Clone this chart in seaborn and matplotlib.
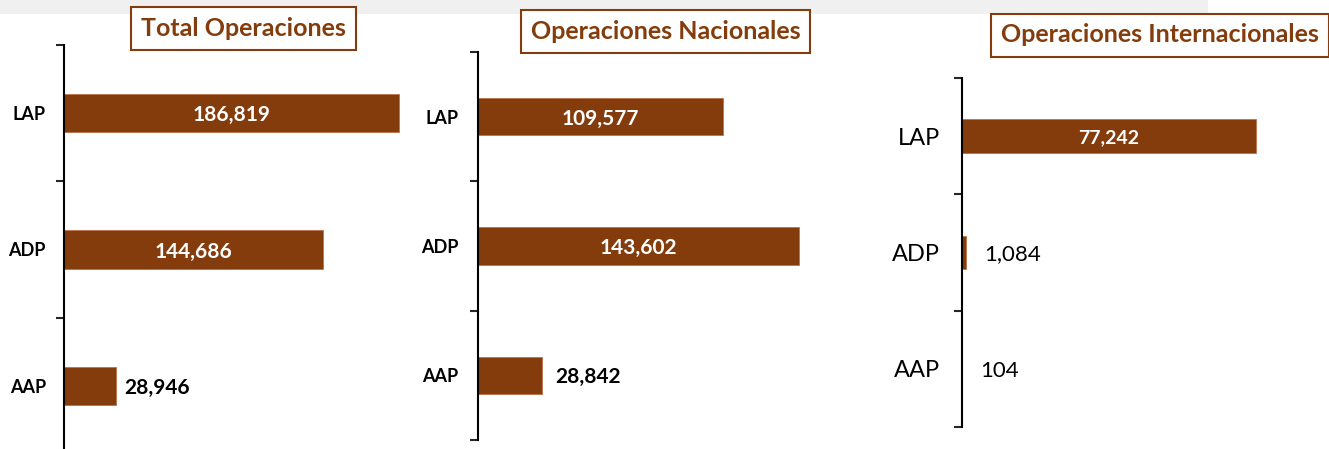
import matplotlib
matplotlib.use("Agg")
import matplotlib.pyplot as plt
import seaborn as sns
from matplotlib.patches import Rectangle

categories = ["LAP", "ADP", "AAP"]
total_ops = [186819, 144686, 28946]
nacional_ops = [109577, 143602, 28842]
internacional_ops = [77242, 1084, 104]
titles = ["Total Operaciones", "Operaciones Nacionales", "Operaciones Internacionales"]

BROWN = "#843C0C"
W, H = 1329, 449

sns.set_style("white")
plt.rcParams["font.family"] = ["Lato", "DejaVu Sans"]

fig = plt.figure(figsize=(W / 100, H / 100), dpi=100)

# grey band at the very top
fig.patches.append(Rectangle((0, 1 - 14 / H), 1208 / W, 14 / H, transform=fig.transFigure,
                             facecolor="#f0f0f0", edgecolor="none", zorder=0))


def px_axes(left, top, right, bottom):
    return fig.add_axes([left / W, 1 - bottom / H, (right - left) / W, (bottom - top) / H])


def draw_panel(ax, values, xmax, width, tick_size, tick_weight, tick_pad,
               inside_min, in_size, out_size, out_weight, out_offset):
    sns.barplot(x=values, y=categories, orient="h", color=BROWN, saturation=1,
                width=width, edgecolor="#b9714a", linewidth=0.6, ax=ax)
    ax.set_xlim(0, xmax)
    ax.set_ylim(2.5, -0.5)
    ax.set_xticks([])
    ax.set_yticks([-0.5, 0.5, 1.5, 2.5], minor=True)
    ax.tick_params(axis="y", which="minor", left=True, length=6, width=1.5, direction="out")
    ax.tick_params(axis="y", which="major", left=False, length=0, pad=tick_pad)
    for lab in ax.get_yticklabels():
        lab.set_fontsize(tick_size)
        lab.set_fontweight(tick_weight)
        lab.set_color("black")
    ax.set_xlabel("")
    ax.set_ylabel("")
    for s in ["top", "right", "bottom"]:
        ax.spines[s].set_visible(False)
    ax.spines["left"].set_linewidth(1.5)
    ax.spines["left"].set_color("black")
    ax.patch.set_alpha(0)
    for i, v in enumerate(values):
        txt = f"{v:,}"
        if v >= inside_min:
            ax.annotate(txt, (v / 2, i), xytext=(0, -1.5), textcoords="offset points",
                        ha="center", va="center", color="white",
                        fontsize=in_size, fontweight="bold")
        else:
            ax.annotate(txt, (v, i), xytext=(out_offset, -1.5), textcoords="offset points",
                        ha="left", va="center", color="black",
                        fontsize=out_size, fontweight=out_weight)


ax1 = px_axes(64, 45, 420, 454)
draw_panel(ax1, total_ops, 198500, 0.28, 13, "bold", 13, 50000, 15, 15, "bold", 6)

ax2 = px_axes(478, 52, 830, 440)
draw_panel(ax2, nacional_ops, 157470, 0.29, 13, "bold", 14, 50000, 15, 15, "bold", 9)

ax3 = px_axes(962, 78, 1300, 427)
draw_panel(ax3, internacional_ops, 88800, 0.29, 17, "normal", 16, 50000, 14, 16, "normal", 13)

# boxed titles
for t, (cx, cy) in zip(titles, [(243.5, 28), (665.5, 31.5), (1160, 35)]):
    fig.text(cx / W, 1 - cy / H, t, ha="center", va="center", fontsize=18,
             fontweight="bold", color=BROWN, zorder=5,
             bbox=dict(boxstyle="square,pad=0.4", facecolor="white", edgecolor=BROWN, linewidth=1.5))

fig.savefig("out.png", dpi=100)
